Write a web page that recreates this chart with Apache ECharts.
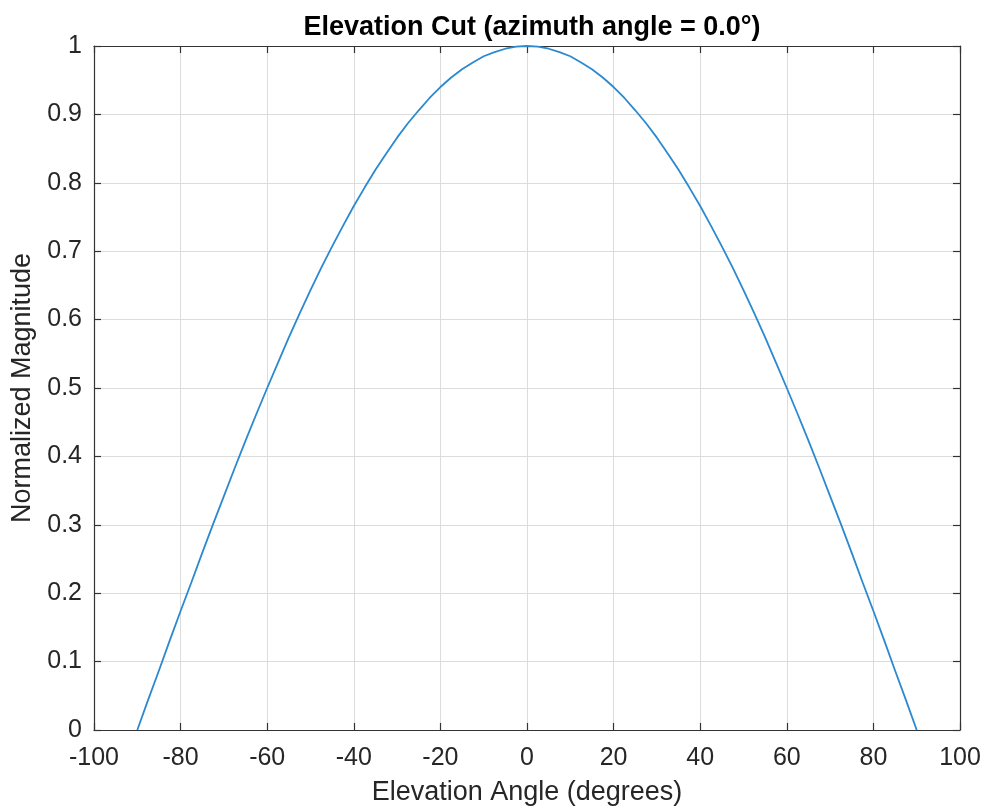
<!DOCTYPE html>
<html>
<head>
<meta charset="utf-8">
<script src="https://cdn.jsdelivr.net/npm/echarts@6/dist/echarts.min.js"></script>
<style>
  html, body { margin: 0; padding: 0; background: #fff; }
  #chart { width: 987px; height: 811px; }
</style>
</head>
<body>
<div id="chart"></div>
<script>
// elevation angle (deg) and normalized magnitude
let angles = [-90, -87.5, -85, -82.5, -80, -77.5, -75, -72.5, -70, -67.5, -65, -62.5, -60, -57.5, -55, -52.5,
  -50, -47.5, -45, -42.5, -40, -37.5, -35, -32.5, -30, -27.5, -25, -22.5, -20, -17.5, -15, -12.5, -10, -7.5, -5, -2.5,
  0, 2.5, 5, 7.5, 10, 12.5, 15, 17.5, 20, 22.5, 25, 27.5, 30, 32.5, 35, 37.5, 40, 42.5, 45, 47.5,
  50, 52.5, 55, 57.5, 60, 62.5, 65, 67.5, 70, 72.5, 75, 77.5, 80, 82.5, 85, 87.5, 90]
let magnitude = [0, 0.044, 0.087, 0.131, 0.174, 0.216, 0.259, 0.301, 0.342, 0.383, 0.423, 0.462, 0.5, 0.537, 0.574, 0.609,
  0.643, 0.676, 0.707, 0.737, 0.766, 0.793, 0.819, 0.843, 0.866, 0.887, 0.906, 0.924, 0.94, 0.954, 0.966, 0.976, 0.985, 0.991, 0.996, 0.999,
  1, 0.999, 0.996, 0.991, 0.985, 0.976, 0.966, 0.954, 0.94, 0.924, 0.906, 0.887, 0.866, 0.843, 0.819, 0.793, 0.766, 0.737, 0.707, 0.676,
  0.643, 0.609, 0.574, 0.537, 0.5, 0.462, 0.423, 0.383, 0.342, 0.301, 0.259, 0.216, 0.174, 0.131, 0.087, 0.044, 0]

let title = 'Elevation Cut (azimuth angle = 0.0°)'
let xName = 'Elevation Angle (degrees)'
let yName = 'Normalized Magnitude'

let font = 'Liberation Sans, Arial, sans-serif'
let ink = '#262626'

let points = angles.map((a, i) => [a, magnitude[i]])

function xAxis(pos, labels) {
  return {
    type: 'value', position: pos, min: -100, max: 100, interval: 20,
    name: labels ? xName : '', nameLocation: 'middle', nameGap: 49,
    nameTextStyle: { fontFamily: font, fontSize: 27, color: ink },
    axisLine: { show: true, onZero: false, lineStyle: { color: '#333', width: 1.2 } },
    axisTick: { show: true, inside: true, length: 7, lineStyle: { color: '#333', width: 1.2 } },
    axisLabel: { show: labels, fontFamily: font, fontSize: 25, color: ink, margin: 16 },
    splitLine: { show: labels, lineStyle: { color: '#dcdcdc', width: 1 } }
  }
}

function yAxis(pos, labels) {
  return {
    type: 'value', position: pos, min: 0, max: 1, interval: 0.1,
    name: labels ? yName : '', nameLocation: 'middle', nameGap: 53,
    nameTextStyle: { fontFamily: font, fontSize: 27, color: ink },
    axisLine: { show: true, onZero: false, lineStyle: { color: '#333', width: 1.2 } },
    axisTick: { show: true, inside: true, length: 7, lineStyle: { color: '#333', width: 1.2 } },
    axisLabel: {
      show: labels, fontFamily: font, fontSize: 25, color: ink, margin: 12,
      formatter: v => String(Math.round(v * 10) / 10)
    },
    splitLine: { show: labels, lineStyle: { color: '#dcdcdc', width: 1 } }
  }
}

let chart = echarts.init(document.getElementById('chart'))
chart.setOption({
  animation: false,
  backgroundColor: '#fff',
  title: {
    text: title, left: 527, top: 9, textAlign: 'center',
    textStyle: { fontFamily: font, fontSize: 27, fontWeight: 'bold', color: '#000' }
  },
  grid: { left: 94, right: 27, top: 46, bottom: 80 },
  xAxis: [xAxis('bottom', true), xAxis('top', false)],
  yAxis: [yAxis('left', true), yAxis('right', false)],
  series: [{
    type: 'line',
    data: points,
    showSymbol: false,
    lineStyle: { color: '#2b89d0', width: 1.8 },
    clip: false
  }]
})
</script>
</body>
</html>
